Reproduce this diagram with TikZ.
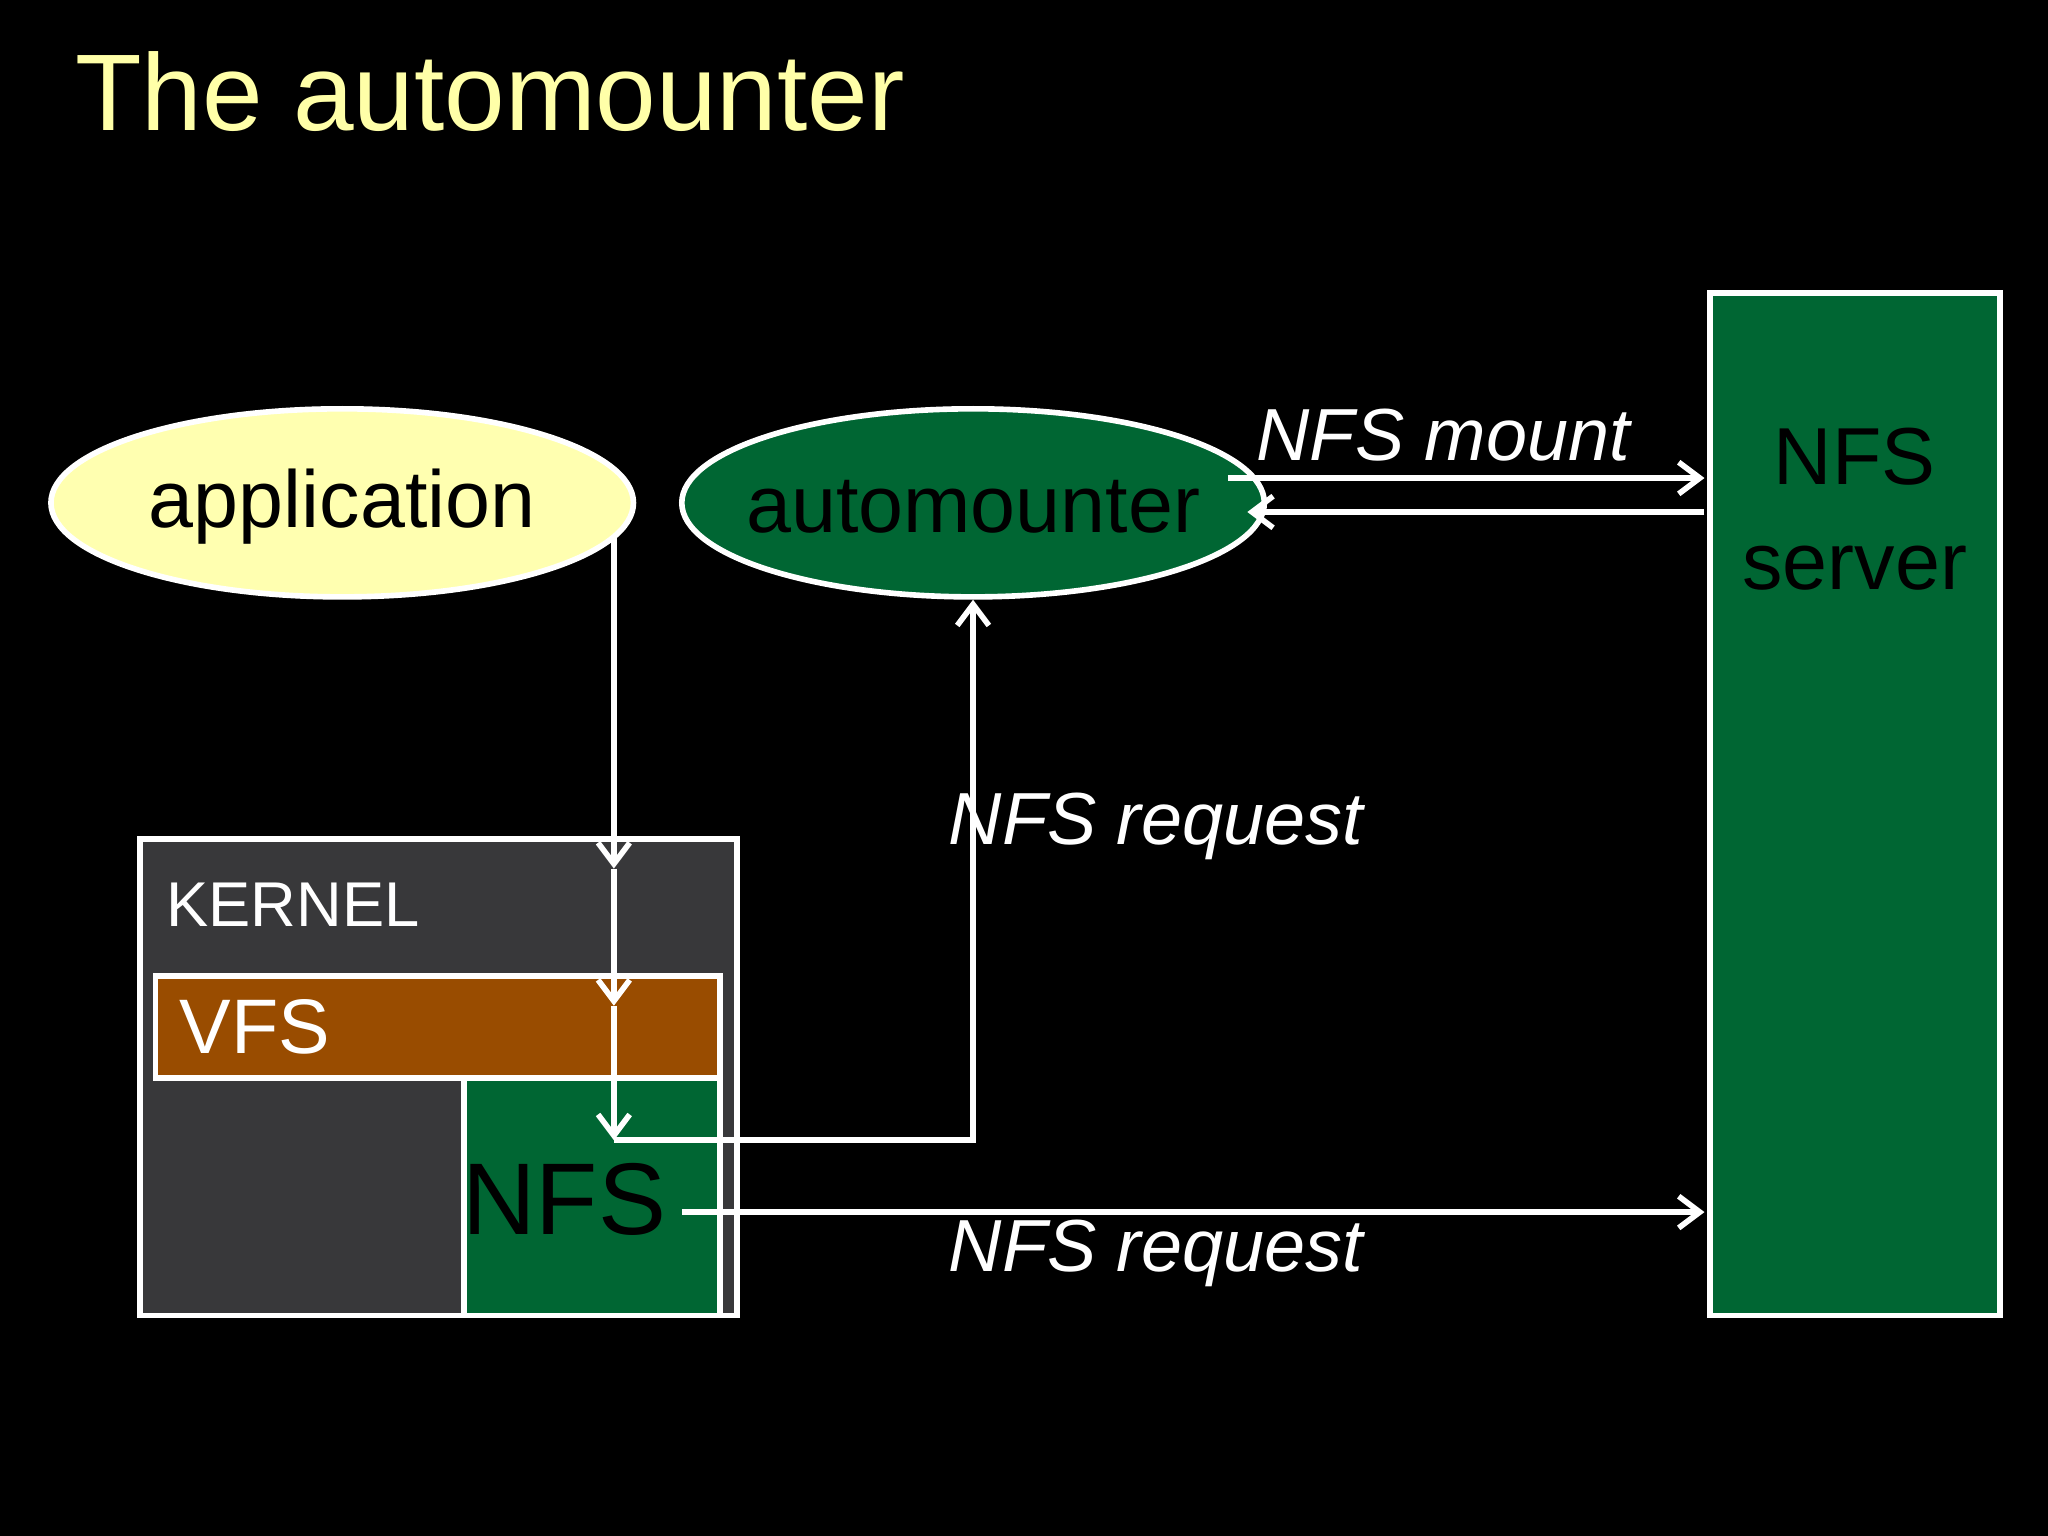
\documentclass[tikz,border=0pt]{standalone}
\usepackage{fontspec}
\setmainfont{Liberation Sans}
\usepackage{xcolor}
\usepackage{tikz}
\usetikzlibrary{positioning,shapes.geometric,arrows.meta}
\definecolor{titleyellow}{HTML}{FFFFA8}
\definecolor{appyellow}{HTML}{FFFFB0}
\definecolor{nfsgreen}{HTML}{006633}
\definecolor{kernelgray}{HTML}{38383A}
\definecolor{vfsbrown}{HTML}{994C00}
\newlength{\unitlen}
\setlength{\unitlen}{0.013061cm}
\tikzset{
  box/.style={draw=white, line width=1.6pt, anchor=north west, inner sep=0pt},
  blob/.style={ellipse, draw=white, line width=1.6pt, inner sep=0pt, minimum width=446\unitlen, minimum height=144\unitlen},
  flow/.style={draw=white, line width=1.6pt, -{Straight Barb[length=6pt,width=9pt]}},
  lbl/.style={text=white, font=\fontsize{21}{25}\selectfont\itshape},
}
\begin{document}
\begin{tikzpicture}[x=\unitlen, y=-\unitlen]
  \fill[black] (0,0) rectangle (1568,1176);
  \useasboundingbox (0,0) rectangle (1568,1176);

  % title
  \node[anchor=west, text=titleyellow, font=\fontsize{31}{36}\selectfont] (title) at (48,70) {The automounter};

  % kernel side
  \node[box, fill=kernelgray, minimum width=457\unitlen, minimum height=365\unitlen] (kernel) at (105,640) {};
  \node[anchor=west, text=white, font=\fontsize{18}{22}\selectfont] (kernellbl) at (118,693) {KERNEL};
  \node[box, fill=vfsbrown, minimum width=432\unitlen, minimum height=78\unitlen] (vfs) at (117,745) {};
  \node[anchor=west, text=white, font=\fontsize{22}{26}\selectfont] (vfslbl) at (128,786) {VFS};
  \node[box, fill=nfsgreen, minimum width=196\unitlen, minimum height=182\unitlen] (nfs) at (353,823) {};
  \node[text=black, font=\fontsize{29}{34}\selectfont] (nfslbl) at (432,918) {NFS};

  % user side
  \node[blob, fill=appyellow] (app) at (262,385) {};
  \node[font=\fontsize{23}{28}\selectfont] (applbl) at (262,388) {application};
  \node[blob, fill=nfsgreen] (auto) at (745,385) {};
  \node[font=\fontsize{23}{28}\selectfont] (autolbl) at (745,388) {automounter};

  % server
  \node[box, fill=nfsgreen, minimum width=222\unitlen, minimum height=783\unitlen] (server) at (1307,222) {};
  \node[align=center, font=\fontsize{23}{30}\selectfont] (serverlbl) at (1420,390) {NFS\\server};

  % connectors
  \coordinate (a0) at (470,410);
  \coordinate (a1) at (470,665);
  \coordinate (a2) at (470,770);
  \coordinate (a3) at (470,873);
  \coordinate (turn) at (745,873);
  \coordinate (m0) at (940,366);
  \coordinate (m1) at (1305,366);
  \coordinate (r0) at (1305,392);
  \coordinate (r1) at (955,392);
  \coordinate (q0) at (522,928);
  \coordinate (q1) at (1305,928);
  \draw[flow] (a0) -- (a1);
  \draw[flow] (a1) -- (a2);
  \draw[flow] (a2) -- (a3);
  \draw[flow] (a3) -- (turn) -- (auto.south);
  \draw[flow] (m0) -- (m1);
  \draw[flow] (r0) -- (r1);
  \draw[flow] (q0) -- (q1);

  % labels
  \node[lbl] (mountlbl) at (1105,333) {NFS mount};
  \node[lbl] (req1) at (885,633) {NFS request};
  \node[lbl] (req2) at (885,960) {NFS request};
\end{tikzpicture}
\end{document}
